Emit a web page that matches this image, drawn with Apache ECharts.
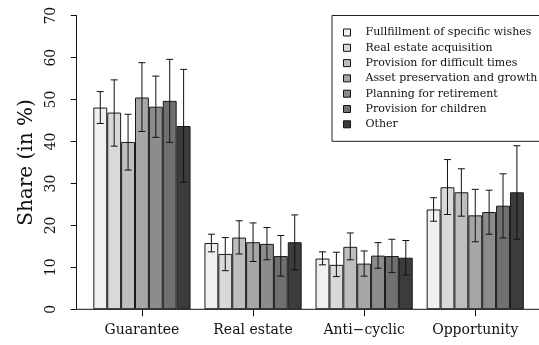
<!DOCTYPE html>
<html>
<head>
<meta charset="utf-8">
<script src="https://cdn.jsdelivr.net/npm/echarts@6/dist/echarts.min.js"></script>
<style>
  html, body { margin: 0; padding: 0; background: #fff; }
  #chart { width: 539px; height: 345px; }
</style>
</head>
<body>
<div id="chart"></div>
<script>
// Investment motives by category (share in %), mean with confidence interval
const categories = ['Guarantee', 'Real estate', 'Anti\u2212cyclic', 'Opportunity'];
const seriesNames = [
  'Fullfillment of specific wishes',
  'Real estate acquisition',
  'Provision for difficult times',
  'Asset preservation and growth',
  'Planning for retirement',
  'Provision for children',
  'Other'
];
const wishes     = [48.1, 15.8, 12.1, 23.8];
const realEstate = [46.9, 13.2, 10.6, 29.1];
const difficult  = [39.9, 17.1, 14.9, 27.9];
const asset      = [50.5, 16.0, 10.9, 22.4];
const retirement = [48.3, 15.6, 12.8, 23.2];
const children   = [49.7, 12.7, 12.7, 24.7];
const other      = [43.7, 16.0, 12.3, 27.9];

const wishesLo     = [44.3, 13.7, 10.6, 21.0], wishesHi     = [51.9, 17.9, 13.7, 26.6];
const realEstateLo = [38.9,  9.2,  7.8, 22.6], realEstateHi = [54.7, 17.1, 13.6, 35.7];
const difficultLo  = [33.2, 13.2, 11.8, 22.2], difficultHi  = [46.5, 21.1, 18.2, 33.5];
const assetLo      = [42.4, 11.4,  7.9, 16.1], assetHi      = [58.8, 20.6, 13.9, 28.6];
const retirementLo = [41.0, 11.8,  9.8, 17.9], retirementHi = [55.6, 19.5, 15.9, 28.4];
const childrenLo   = [39.8,  7.9,  8.8, 17.0], childrenHi   = [59.6, 17.6, 16.7, 32.3];
const otherLo      = [30.3,  9.4,  8.2, 16.7], otherHi      = [57.2, 22.5, 16.4, 39.0];

const yTicks = [0, 10, 20, 30, 40, 50, 60, 70];

const means = [wishes, realEstate, difficult, asset, retirement, children, other];
const lows  = [wishesLo, realEstateLo, difficultLo, assetLo, retirementLo, childrenLo, otherLo];
const highs = [wishesHi, realEstateHi, difficultHi, assetHi, retirementHi, childrenHi, otherHi];

const grays = ['#f0f0f0', '#d9d9d9', '#bebebe', '#a6a6a6', '#8c8c8c', '#707070', '#3c3c3c'];
const FONT = 'DejaVu Serif';
const nSeries = seriesNames.length;

// error-bar items: [category index, series index, low, high]
const errData = [];
for (let s = 0; s < nSeries; s++) {
  for (let c = 0; c < categories.length; c++) {
    errData.push([c, s, lows[s][c], highs[s][c]]);
  }
}

const barSeries = seriesNames.map((name, s) => ({
  name,
  type: 'bar',
  data: means[s],
  barGap: '0%',
  barCategoryGap: (100 / (nSeries + 1)) + '%',
  itemStyle: { color: grays[s], borderColor: '#1a1a1a', borderWidth: 1 },
  emphasis: { disabled: true },
  z: 2
}));

const errorSeries = {
  type: 'custom',
  data: errData,
  z: 5,
  silent: true,
  renderItem(params, api) {
    const c = api.value(0), s = api.value(1);
    const band = api.size([1, 0])[0];
    const bw = band / (nSeries + 1);
    const cx = api.coord([c, 0])[0] + (s - (nSeries - 1) / 2) * bw;
    const yLo = api.coord([c, api.value(2)])[1];
    const yHi = api.coord([c, api.value(3)])[1];
    const cap = 3.5;
    const st = { stroke: '#111', lineWidth: 1, fill: null };
    return {
      type: 'group',
      children: [
        { type: 'line', shape: { x1: cx, y1: yLo, x2: cx, y2: yHi }, style: st },
        { type: 'line', shape: { x1: cx - cap, y1: yHi, x2: cx + cap, y2: yHi }, style: st },
        { type: 'line', shape: { x1: cx - cap, y1: yLo, x2: cx + cap, y2: yLo }, style: st }
      ]
    };
  }
};

const chart = echarts.init(document.getElementById('chart'), null, { renderer: 'canvas' });
chart.setOption({
  animation: false,
  backgroundColor: '#fff',
  textStyle: { fontFamily: FONT },
  grid: { left: 86.4, right: 8.2, top: 15.7, bottom: 35.7, containLabel: false },
  legend: {
    data: seriesNames,
    orient: 'vertical',
    left: 332,
    top: 15.5,
    icon: 'rect',
    itemWidth: 7,
    itemHeight: 7,
    itemGap: 3.3,
    padding: [11, 20, 11, 11],
    borderColor: '#222',
    borderWidth: 1,
    backgroundColor: '#fff',
    selectedMode: false,
    itemStyle: { borderColor: '#111', borderWidth: 1 },
    textStyle: { fontFamily: FONT, fontSize: 11, color: '#111', lineHeight: 12, padding: [0, 0, 0, 10] }
  },
  xAxis: {
    type: 'category',
    data: categories,
    axisLine: { show: false },
    axisTick: { show: true, alignWithLabel: true, length: 7, lineStyle: { color: '#111', width: 1 } },
    axisLabel: { fontFamily: FONT, fontSize: 14, color: '#111', margin: 14, interval: 0 },
    splitLine: { show: false }
  },
  yAxis: {
    type: 'value',
    min: yTicks[0],
    max: yTicks[yTicks.length - 1],
    interval: yTicks[1] - yTicks[0],
    offset: 9.7,
    name: 'Share (in %)',
    nameLocation: 'middle',
    nameGap: 38,
    nameTextStyle: { fontFamily: FONT, fontSize: 20, color: '#111' },
    axisLine: { show: true, lineStyle: { color: '#111', width: 1 } },
    axisTick: { show: true, length: 6, lineStyle: { color: '#111', width: 1 } },
    axisLabel: { fontFamily: FONT, fontSize: 14, color: '#111', rotate: 90, margin: 18 },
    splitLine: { show: false }
  },
  series: [...barSeries, errorSeries]
});

// baseline at zero running from the y axis across the plot
const y0 = chart.convertToPixel({ yAxisIndex: 0 }, 0);
const gridLeft = chart.convertToPixel({ xAxisIndex: 0 }, 0) - chart.getModel().getComponent('xAxis', 0).axis.getBandWidth() / 2;
chart.setOption({
  graphic: [{
    type: 'line',
    z: 10,
    shape: { x1: gridLeft - 9.7, y1: y0, x2: 539, y2: y0 },
    style: { stroke: '#111', lineWidth: 1 }
  }]
});
</script>
</body>
</html>
